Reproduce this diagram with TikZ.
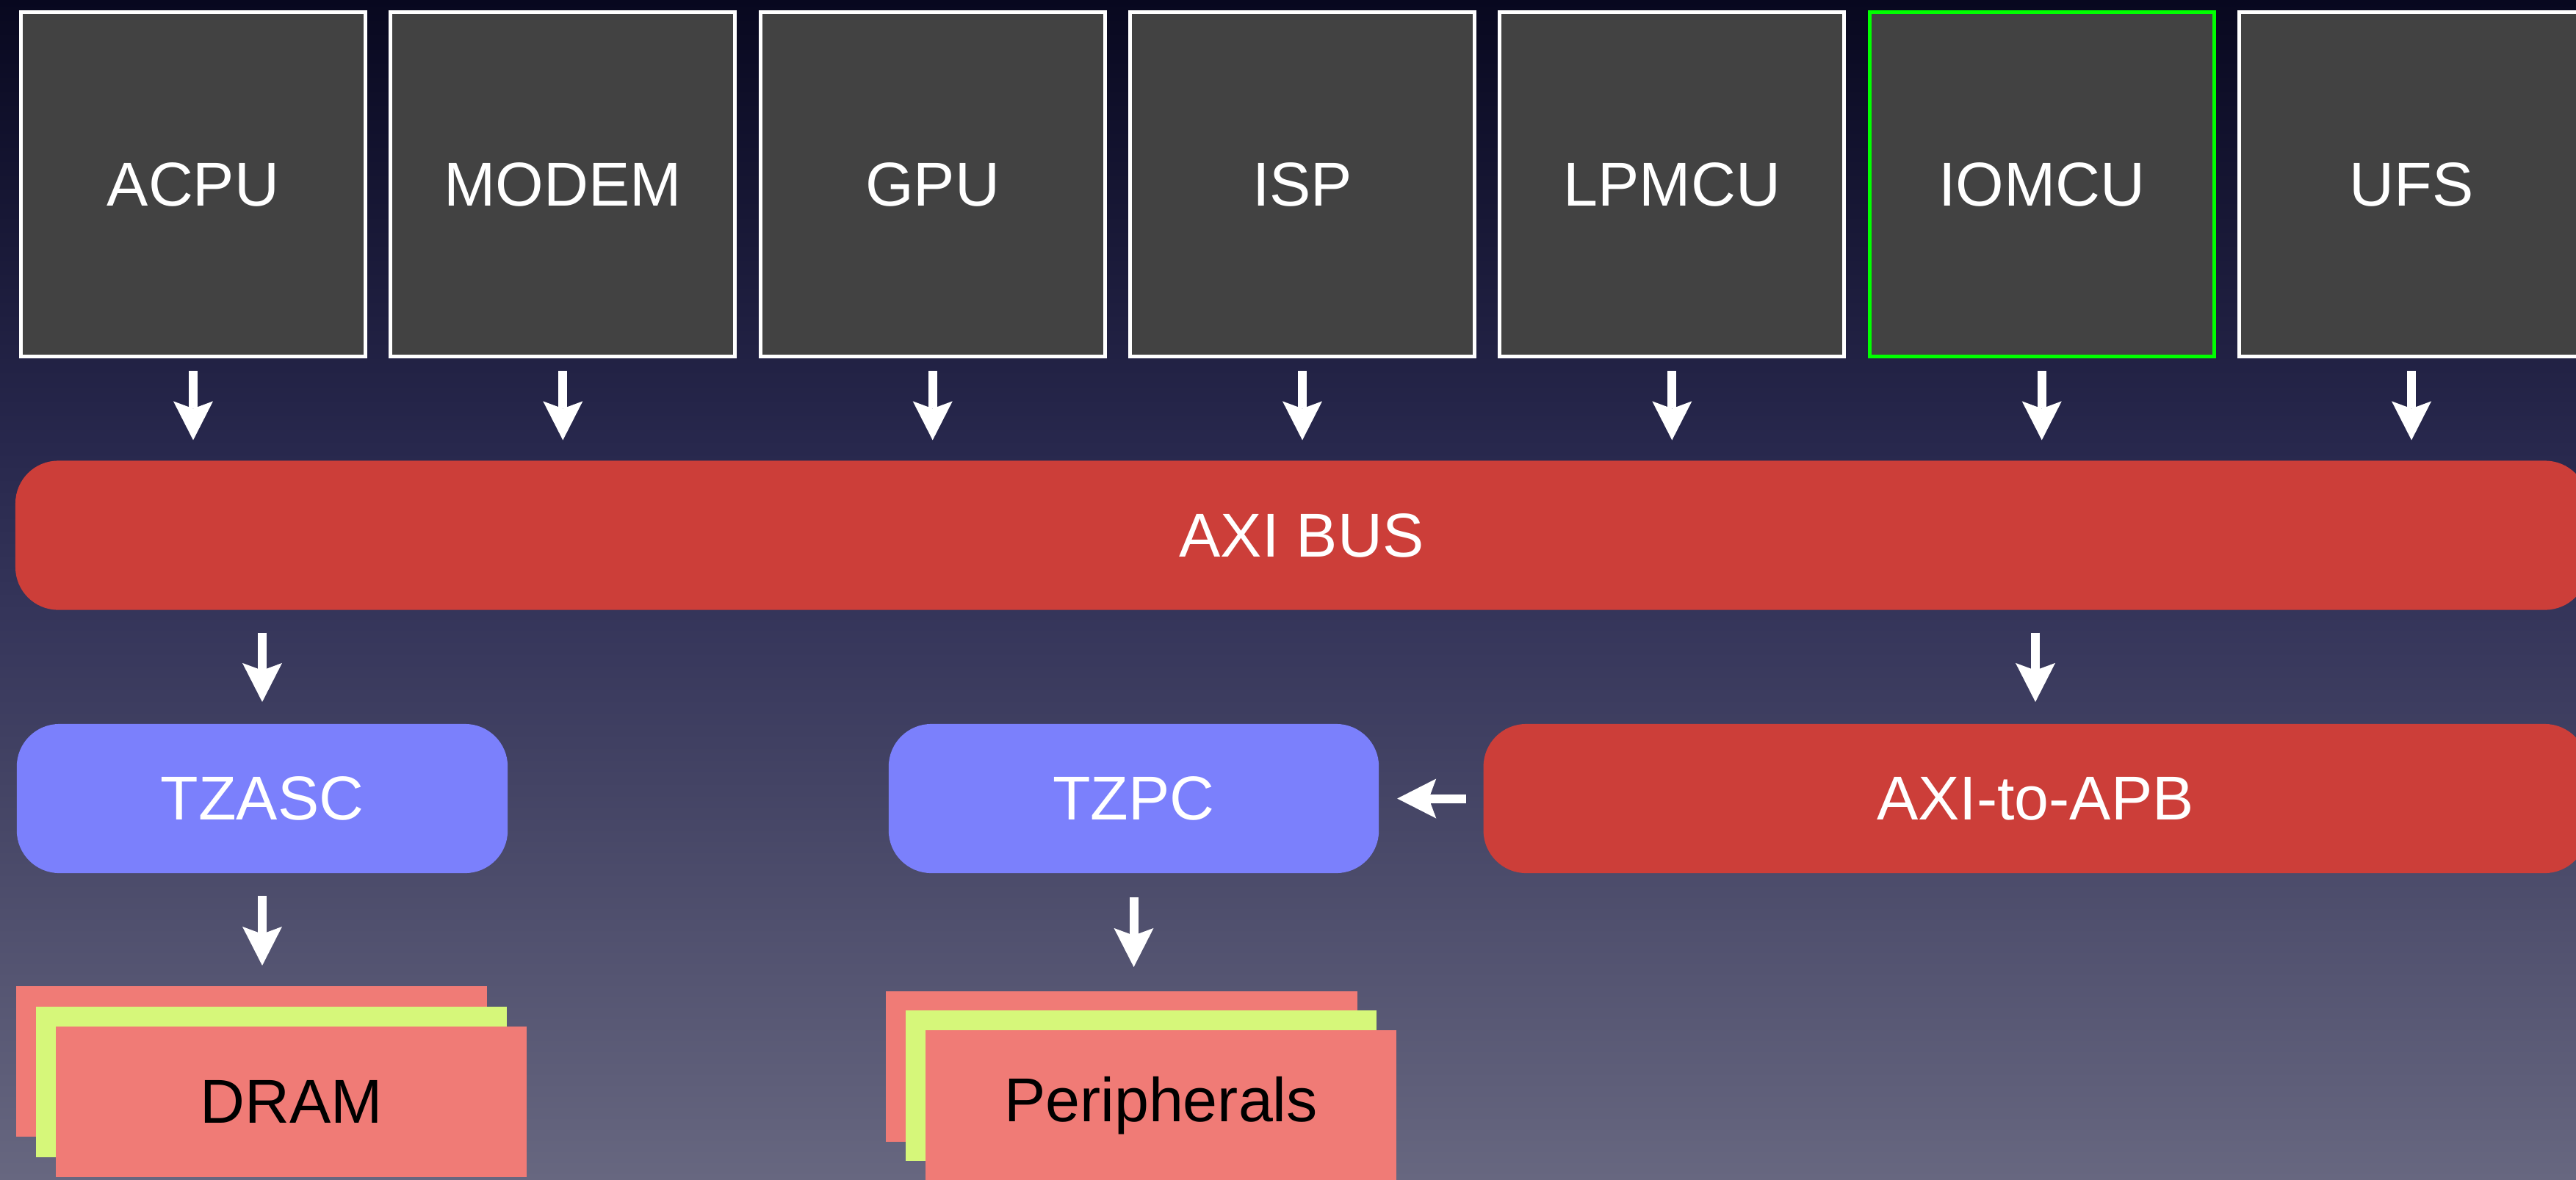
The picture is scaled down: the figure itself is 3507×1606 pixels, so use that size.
\documentclass[tikz,border=0pt]{standalone}
\usepackage{fontspec}
\setmainfont{Liberation Sans}
\usetikzlibrary{arrows.meta}
\definecolor{bgtop}{HTML}{08081F}
\definecolor{bgmida}{HTML}{27274C}
\definecolor{bgmidb}{HTML}{35355A}
\definecolor{bgmidc}{HTML}{474767}
\definecolor{bgbot}{HTML}{676780}
\definecolor{chipgray}{HTML}{424242}
\definecolor{busred}{HTML}{CC3E39}
\definecolor{secblue}{HTML}{7B80FC}
\definecolor{salmon}{HTML}{F07B76}
\definecolor{limey}{HTML}{D6F77A}
\definecolor{brightgreen}{HTML}{00FF00}
\pgfdeclareverticalshading{bgshade}{100bp}{color(0bp)=(bgbot); color(25bp)=(bgbot); color(40bp)=(bgmidc); color(49bp)=(bgmidb); color(56.5bp)=(bgmida); color(75bp)=(bgtop); color(100bp)=(bgtop)}
\newcommand{\lblfont}{\fontsize{24pt}{28pt}\selectfont}
\begin{document}
\begin{tikzpicture}[x=0.01cm,y=-0.01cm,
  chip/.style={draw=white, line width=0.05cm, fill=chipgray, minimum width=4.69cm, minimum height=4.69cm, inner sep=0pt, font=\lblfont, text=white},
  busbox/.style={fill=busred, rounded corners=0.58cm, inner sep=0pt, outer sep=0pt, minimum height=2.03cm, font=\lblfont, text=white},
  secbox/.style={fill=secblue, rounded corners=0.58cm, inner sep=0pt, outer sep=0pt, minimum height=2.03cm, font=\lblfont, text=white},
  memcard/.style={inner sep=0pt, outer sep=0pt, minimum width=6.41cm, minimum height=2.05cm, font=\lblfont, text=black},
  arr/.style={draw=white, line width=0.12cm, -{Stealth[length=0.53cm,width=0.54cm,inset=0.1cm,line width=0pt]}}
]
\useasboundingbox (0,0) rectangle (3507,1606);
\clip (0,0) rectangle (3507,1606);
\shade[shading=bgshade] (0,0) rectangle (3507,1606);

% top row of masters
\node[chip] (acpu)  at (263,251)    {ACPU};
\node[chip] (modem) at (766.3,251)  {MODEM};
\node[chip] (gpu)   at (1269.7,251) {GPU};
\node[chip] (isp)   at (1773,251)   {ISP};
\node[chip] (lpmcu) at (2276.3,251) {LPMCU};
\node[chip, draw=brightgreen] (iomcu) at (2779.7,251) {IOMCU};
\node[chip] (ufs)   at (3283,251)   {UFS};

% buses and controllers
\node[busbox, minimum width=35cm] (axi) at (1772,729) {AXI BUS};
\node[secbox, minimum width=6.68cm] (tzasc) at (357,1087.5) {TZASC};
\node[secbox, minimum width=6.67cm] (tzpc) at (1543.5,1087.5) {TZPC};
\node[busbox, minimum width=15.02cm] (apb) at (2771,1087.5) {AXI-to-APB};

% memory stacks
\node[memcard, fill=salmon] (dramback) at (342.5,1445.5) {};
\node[memcard, fill=limey]  (drammid)  at (369.5,1473.5) {};
\node[memcard, fill=salmon] (dram)     at (396.5,1500.5) {DRAM};
\node[memcard, fill=salmon] (perback) at (1527,1452.5) {};
\node[memcard, fill=limey]  (permid)  at (1553.5,1478.5) {};
\node[memcard, fill=salmon] (per)     at (1580.5,1505.5) {Peripherals};

% arrows from masters to the bus
\foreach \m in {acpu,modem,gpu,isp,lpmcu,iomcu,ufs}
  \draw[arr, shorten <=0.17cm, shorten >=0.28cm] (\m.south) -- (\m.south |- axi.north);

% bus to controllers
\draw[arr, shorten <=0.31cm, shorten >=0.30cm] (tzasc.north |- axi.south) -- (tzasc.north);
\draw[arr, shorten <=0.31cm, shorten >=0.30cm] (apb.north |- axi.south) -- (apb.north);
\draw[arr, shorten <=0.24cm, shorten >=0.25cm] (apb.west) -- (tzpc.east);

% controllers to memory / peripherals
\draw[arr, shorten <=0.31cm, shorten >=0.28cm] (tzasc.south) -- (tzasc.south |- dramback.north);
\draw[arr, shorten <=0.33cm, shorten >=0.33cm] (tzpc.south) -- (tzpc.south |- perback.north);
\end{tikzpicture}
\end{document}
